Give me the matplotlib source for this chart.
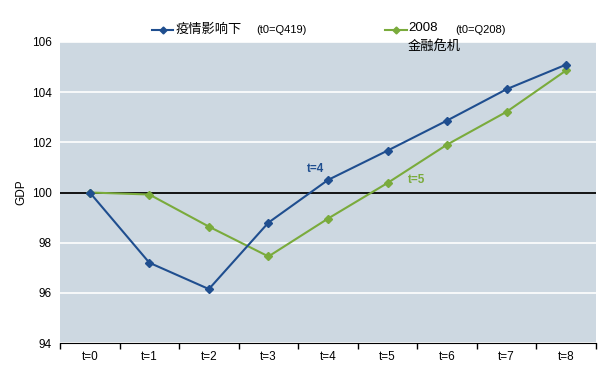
import matplotlib.pyplot as plt
from matplotlib.lines import Line2D

plt.rcParams['font.family'] = ['Liberation Sans', 'Noto Sans CJK SC', 'DejaVu Sans']

# datos
periodos = ['t=0', 't=1', 't=2', 't=3', 't=4', 't=5', 't=6', 't=7', 't=8']
covid = [100.0, 97.2, 96.15, 98.8, 100.5, 101.67, 102.87, 104.12, 105.1]
crisis_2008 = [100.0, 99.92, 98.64, 97.45, 98.96, 100.38, 101.91, 103.22, 104.87]

azul = '#1f4e8f'
verde = '#7aab3c'

fig = plt.figure(figsize=(6.14, 3.68), dpi=100)
ax = fig.add_axes([60 / 614, 1 - 343 / 368, 536 / 614, 301 / 368])
ax.set_facecolor('#cdd8e1')

x = list(range(len(periodos)))
ax.plot(x, covid, color=azul, marker='D', markersize=4.5, linewidth=1.5, zorder=4)
ax.plot(x, crisis_2008, color=verde, marker='D', markersize=4.5, linewidth=1.5, zorder=3)
ax.axhline(100, color='black', linewidth=1.3, zorder=2)

ax.set_xlim(-0.5, len(periodos) - 0.5)
ax.set_ylim(94, 106)
ax.set_yticks(range(94, 107, 2))
ax.yaxis.grid(True, color='white', linewidth=1.2)
ax.set_axisbelow(True)

ax.set_xticks(x)
ax.set_xticklabels(periodos)
ax.set_xticks([i - 0.5 for i in range(len(periodos) + 1)], minor=True)
ax.tick_params(axis='x', which='major', length=0, pad=6, labelsize=8.5)
ax.tick_params(axis='x', which='minor', length=4, direction='out', width=1)
ax.tick_params(axis='y', length=0, labelsize=8.5, pad=6)

for s in ['left', 'right', 'top']:
    ax.spines[s].set_visible(False)
ax.spines['bottom'].set_color('black')

ax.set_ylabel('GDP', fontsize=8.5, labelpad=3)

ax.text(3.79, 100.95, 't=4', color=azul, fontsize=8.5, fontweight='bold', ha='center', va='center')
ax.text(5.48, 100.5, 't=5', color=verde, fontsize=8.5, fontweight='bold', ha='center', va='center')

# leyenda manual
fig.add_artist(Line2D([152 / 614, 162.5 / 614, 173 / 614], [1 - 30 / 368] * 3, color=azul, linewidth=1.5,
                      marker='D', markersize=3.5, markevery=[1], transform=fig.transFigure))
fig.text(176 / 614, 1 - 30 / 368, '疫情影响下', fontsize=9.5, va='center')
fig.text(256 / 614, 1 - 30 / 368, '(t0=Q419)', fontsize=8, va='center')
fig.add_artist(Line2D([385 / 614, 396 / 614, 407 / 614], [1 - 30 / 368] * 3, color=verde, linewidth=1.5,
                      marker='D', markersize=3.5, markevery=[1], transform=fig.transFigure))
fig.text(408 / 614, 1 - 28 / 368, '2008', fontsize=9.5, va='center')
fig.text(408 / 614, 1 - 47 / 368, '金融危机', fontsize=9.5, va='center')
fig.text(455 / 614, 1 - 30 / 368, '(t0=Q208)', fontsize=8, va='center')

fig.savefig('out.png', dpi=100)
